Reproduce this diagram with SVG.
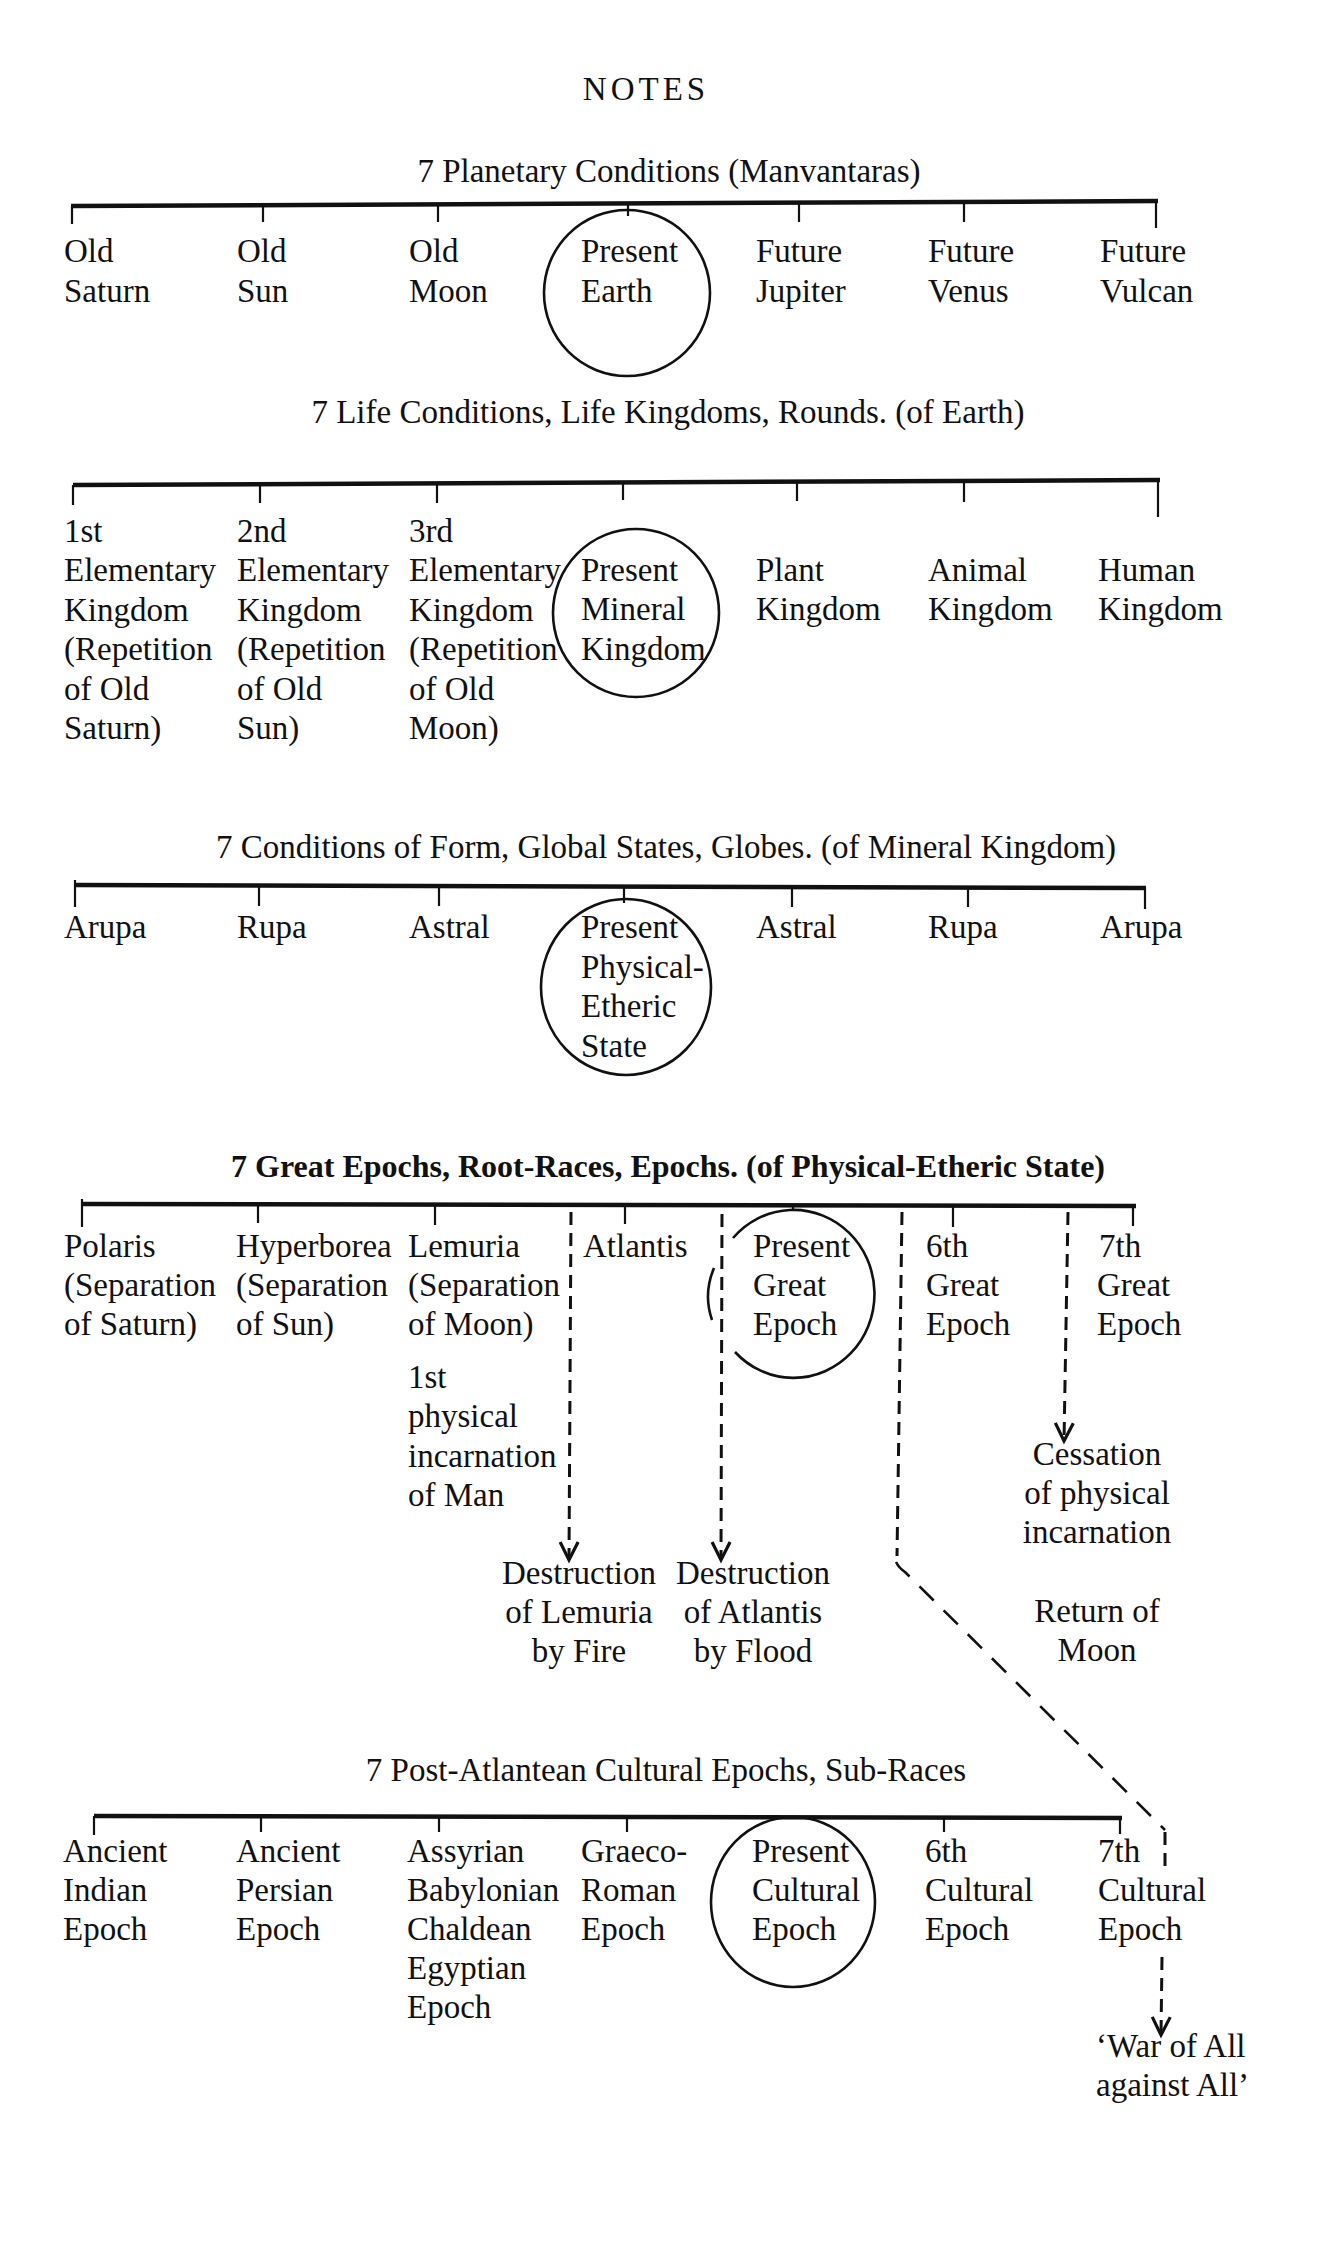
<svg xmlns="http://www.w3.org/2000/svg" width="1343" height="2251" viewBox="0 0 1343 2251">
<style>
text { font-family: "Liberation Serif", "Times New Roman", serif; font-size: 33px; fill: #111; }
.mid { text-anchor: middle; }
.bold { font-weight: bold; font-size: 32px; }
.axis { stroke: #111; stroke-width: 4.5; fill: none; }
.tick { stroke: #111; stroke-width: 2.2; fill: none; }
.ring { stroke: #111; stroke-width: 2.6; fill: none; }
.dv { stroke: #111; stroke-width: 3; fill: none; stroke-dasharray: 13 8; }
.dd { stroke: #111; stroke-width: 2.6; fill: none; stroke-dasharray: 20 14; }
</style>
<defs>
<marker id="vee" viewBox="-22 -13 26 26" refX="0" refY="0" markerWidth="26" markerHeight="26" markerUnits="userSpaceOnUse" orient="auto">
<path d="M-18,-9 L0,0 L-18,9" fill="none" stroke="#111" stroke-width="3.2" stroke-dasharray="none" stroke-linejoin="miter"/>
</marker>
</defs>
<rect width="1343" height="2251" fill="#ffffff"/>

<g id="heading"><text class="mid" x="646" y="100" letter-spacing="4">NOTES</text></g>

<!-- Section 1 -->
<g id="s1-title"><text class="mid" x="669" y="182">7 Planetary Conditions (Manvantaras)</text></g>
<g id="s1-old-saturn"><text x="64" y="262">Old<tspan x="64" dy="40">Saturn</tspan></text></g>
<g id="s1-old-sun"><text x="237" y="262">Old<tspan x="237" dy="40">Sun</tspan></text></g>
<g id="s1-old-moon"><text x="409" y="262">Old<tspan x="409" dy="40">Moon</tspan></text></g>
<g id="s1-present-earth"><ellipse class="ring" cx="627" cy="293" rx="83" ry="83"/><text x="581" y="262">Present<tspan x="581" dy="40">Earth</tspan></text></g>
<g id="s1-future-jupiter"><text x="756" y="262">Future<tspan x="756" dy="40">Jupiter</tspan></text></g>
<g id="s1-future-venus"><text x="928" y="262">Future<tspan x="928" dy="40">Venus</tspan></text></g>
<g id="s1-future-vulcan"><text x="1100" y="262">Future<tspan x="1100" dy="40">Vulcan</tspan></text></g>

<!-- Section 2 -->
<g id="s2-title"><text class="mid" x="668" y="423">7 Life Conditions, Life Kingdoms, Rounds. (of Earth)</text></g>
<g id="s2-first"><text x="64" y="542">1st<tspan x="64" dy="39.4">Elementary</tspan><tspan x="64" dy="39.4">Kingdom</tspan><tspan x="64" dy="39.4">(Repetition</tspan><tspan x="64" dy="39.4">of Old</tspan><tspan x="64" dy="39.4">Saturn)</tspan></text></g>
<g id="s2-second"><text x="237" y="542">2nd<tspan x="237" dy="39.4">Elementary</tspan><tspan x="237" dy="39.4">Kingdom</tspan><tspan x="237" dy="39.4">(Repetition</tspan><tspan x="237" dy="39.4">of Old</tspan><tspan x="237" dy="39.4">Sun)</tspan></text></g>
<g id="s2-third"><text x="409" y="542">3rd<tspan x="409" dy="39.4">Elementary</tspan><tspan x="409" dy="39.4">Kingdom</tspan><tspan x="409" dy="39.4">(Repetition</tspan><tspan x="409" dy="39.4">of Old</tspan><tspan x="409" dy="39.4">Moon)</tspan></text></g>
<g id="s2-present-mineral"><ellipse class="ring" cx="636" cy="613" rx="83" ry="84"/><text x="581" y="581">Present<tspan x="581" dy="39.4">Mineral</tspan><tspan x="581" dy="39.4">Kingdom</tspan></text></g>
<g id="s2-plant"><text x="756" y="581">Plant<tspan x="756" dy="39.4">Kingdom</tspan></text></g>
<g id="s2-animal"><text x="928" y="581">Animal<tspan x="928" dy="39.4">Kingdom</tspan></text></g>
<g id="s2-human"><text x="1098" y="581">Human<tspan x="1098" dy="39.4">Kingdom</tspan></text></g>

<!-- Section 3 -->
<g id="s3-title"><text class="mid" x="666" y="858">7 Conditions of Form, Global States, Globes. (of Mineral Kingdom)</text></g>
<g id="s3-arupa-1"><text x="64" y="938">Arupa</text></g>
<g id="s3-rupa-1"><text x="237" y="938">Rupa</text></g>
<g id="s3-astral-1"><text x="409" y="938">Astral</text></g>
<g id="s3-present-physical"><ellipse class="ring" cx="626" cy="987" rx="85" ry="88"/><text x="581" y="938">Present<tspan x="581" dy="39.7">Physical-</tspan><tspan x="581" dy="39.7">Etheric</tspan><tspan x="581" dy="39.7">State</tspan></text></g>
<g id="s3-astral-2"><text x="756" y="938">Astral</text></g>
<g id="s3-rupa-2"><text x="928" y="938">Rupa</text></g>
<g id="s3-arupa-2"><text x="1100" y="938">Arupa</text></g>

<!-- Section 4 -->
<g id="s4-title"><text class="mid bold" x="668" y="1177">7 Great Epochs, Root-Races, Epochs. (of Physical-Etheric State)</text></g>
<g id="s4-polaris"><text x="64" y="1257">Polaris<tspan x="64" dy="39">(Separation</tspan><tspan x="64" dy="39">of Saturn)</tspan></text></g>
<g id="s4-hyperborea"><text x="236" y="1257">Hyperborea<tspan x="236" dy="39">(Separation</tspan><tspan x="236" dy="39">of Sun)</tspan></text></g>
<g id="s4-lemuria"><text x="408" y="1257">Lemuria<tspan x="408" dy="39">(Separation</tspan><tspan x="408" dy="39">of Moon)</tspan></text><text x="408" y="1388">1st<tspan x="408" dy="39.3">physical</tspan><tspan x="408" dy="39.3">incarnation</tspan><tspan x="408" dy="39.3">of Man</tspan></text></g>
<g id="s4-atlantis"><text x="583" y="1257">Atlantis</text></g>
<g id="s4-present-great"><path class="ring" d="M733,1238 A81,84 0 1 1 735,1352"/><path class="ring" d="M714,1268 Q703,1294 712,1320"/><text x="753" y="1257">Present<tspan x="753" dy="39">Great</tspan><tspan x="753" dy="39">Epoch</tspan></text></g>
<g id="s4-sixth"><text x="926" y="1257">6th<tspan x="926" dy="39">Great</tspan><tspan x="926" dy="39">Epoch</tspan></text></g>
<g id="s4-seventh"><text x="1099" y="1257">7th<tspan x="1097" dy="39">Great</tspan><tspan x="1097" dy="39">Epoch</tspan></text></g>
<g id="s4-destr-lemuria"><text class="mid" x="579" y="1584">Destruction<tspan x="579" dy="39">of Lemuria</tspan><tspan x="579" dy="39">by Fire</tspan></text></g>
<g id="s4-destr-atlantis"><text class="mid" x="753" y="1584">Destruction<tspan x="753" dy="39">of Atlantis</tspan><tspan x="753" dy="39">by Flood</tspan></text></g>
<g id="s4-cessation"><text class="mid" x="1097" y="1465">Cessation<tspan x="1097" dy="39">of physical</tspan><tspan x="1097" dy="39">incarnation</tspan></text></g>
<g id="s4-return-moon"><text class="mid" x="1097" y="1622">Return of<tspan x="1097" dy="39">Moon</tspan></text></g>

<!-- Section 5 -->
<g id="s5-title"><text class="mid" x="666" y="1781">7 Post-Atlantean Cultural Epochs, Sub-Races</text></g>
<g id="s5-indian"><text x="63" y="1862">Ancient<tspan x="63" dy="39">Indian</tspan><tspan x="63" dy="39">Epoch</tspan></text></g>
<g id="s5-persian"><text x="236" y="1862">Ancient<tspan x="236" dy="39">Persian</tspan><tspan x="236" dy="39">Epoch</tspan></text></g>
<g id="s5-egyptian"><text x="407" y="1862">Assyrian<tspan x="407" dy="39">Babylonian</tspan><tspan x="407" dy="39">Chaldean</tspan><tspan x="407" dy="39">Egyptian</tspan><tspan x="407" dy="39">Epoch</tspan></text></g>
<g id="s5-graeco-roman"><text x="581" y="1862">Graeco-<tspan x="581" dy="39">Roman</tspan><tspan x="581" dy="39">Epoch</tspan></text></g>
<g id="s5-present-cultural"><ellipse class="ring" cx="793" cy="1902" rx="82" ry="85"/><text x="752" y="1862">Present<tspan x="752" dy="39">Cultural</tspan><tspan x="752" dy="39">Epoch</tspan></text></g>
<g id="s5-sixth"><text x="925" y="1862">6th<tspan x="925" dy="39">Cultural</tspan><tspan x="925" dy="39">Epoch</tspan></text></g>
<g id="s5-seventh"><text x="1098" y="1862">7th<tspan x="1098" dy="39">Cultural</tspan><tspan x="1098" dy="39">Epoch</tspan></text></g>
<g id="s5-war"><text x="1096" y="2057">‘War of All<tspan x="1096" dy="39">against All’</tspan></text></g>

<g id="connectors">
<path class="axis" d="M71,206 L1158,201"/>
<path class="tick" d="M72,206 V224 M263,205 V222 M438,205 V222 M628,204 V216 M799,203 V222 M964,202 V222 M1156,201 V228"/>
<path class="axis" d="M73,485 L1160,480"/>
<path class="tick" d="M73,485 V505 M260,484 V503 M437,484 V503 M623,483 V500 M797,482 V501 M964,482 V502 M1158,480 V517"/>
<path class="axis" d="M75,885 L1146,888"/>
<path class="tick" d="M75,880 V907 M259,885 V906 M439,886 V906 M624,886 V903 M792,887 V907 M968,888 V907 M1145,888 V909"/>
<path class="axis" d="M82,1204 L1136,1206"/>
<path class="tick" d="M82,1199 V1227 M258,1204 V1223 M435,1204 V1225 M625,1204 V1224 M793,1205 V1211 M953,1205 V1227 M1133,1205 V1226"/>
<path class="axis" d="M94,1816 L1122,1818"/>
<path class="tick" d="M94,1816 V1835 M261,1816 V1832 M627,1817 V1832 M944,1817 V1832 M1120,1818 V1834"/>
<path class="tick" stroke-width="3.2" d="M439,1816 V1832"/>
<path class="dv" d="M571,1212 L569,1560" marker-end="url(#vee)"/>
<path class="dv" d="M722,1214 L721,1560" marker-end="url(#vee)"/>
<path class="dv" d="M1068,1212 L1064,1441" marker-end="url(#vee)"/>
<path class="dv" d="M902,1212 L897,1556"/>
<path class="dd" d="M896,1562 Q899,1568 905,1572 L1165,1830"/>
<path class="dv" d="M1165,1832 L1165,1870"/>
<path class="dv" d="M1162,1957 L1161,2035" marker-end="url(#vee)"/>
</g>
</svg>
